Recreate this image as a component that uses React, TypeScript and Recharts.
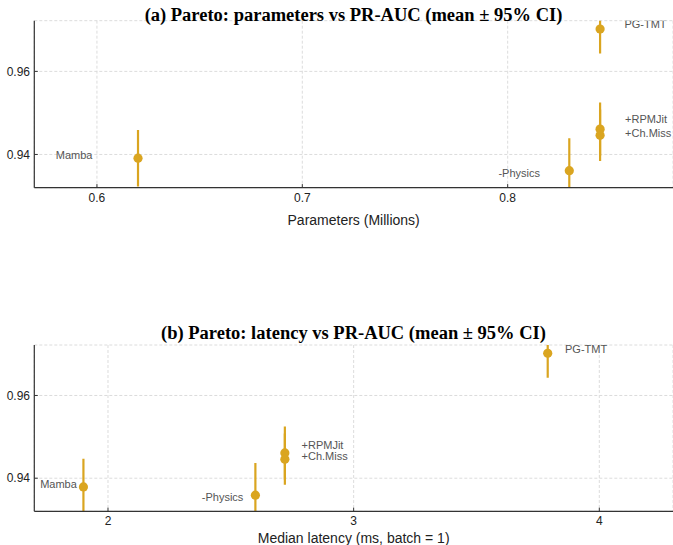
import React from 'react';
import { ScatterChart, Scatter, XAxis, YAxis, CartesianGrid, ErrorBar } from 'recharts';

// values
const models = ['Mamba', '-Physics', '+RPMJit', '+Ch.Miss', 'PG-TMT'];
const paramsMillions = [0.62, 0.83, 0.845, 0.845, 0.845];
const latencyMs = [1.9, 2.6, 2.72, 2.72, 3.79];
const prAucParams = [0.9391, 0.9361, 0.9461, 0.9446, 0.9702];
const prAucLatency = [0.9379, 0.9359, 0.9461, 0.9446, 0.9702];
const ci95 = [0.0068, 0.0078, 0.0064, 0.0062, 0.0059];

const paramTicks = [0.6, 0.7, 0.8];
const latencyTicks = [2, 3, 4];
const aucTicks = [0.94, 0.96];

const GOLD = '#DAA520';
const SANS = '"Liberation Sans", Arial, sans-serif';
const SERIF = '"Liberation Serif", "Times New Roman", serif';
const WIDTH = 673;
const Y_AXIS_W = 34.3;

type LabelPos = { [name: string]: [number, number, 'start' | 'end'] };

// pixel offsets of the annotation text from each dot
const labelPosParams: LabelPos = {
  Mamba: [-45.6, -3.3, 'end'],
  '-Physics': [-29.3, 2.6, 'end'],
  '+RPMJit': [25, -10, 'start'],
  '+Ch.Miss': [25, -2.4, 'start'],
  'PG-TMT': [24.3, -5, 'start'],
};
const labelPosLatency: LabelPos = {
  Mamba: [-6.6, -3, 'end'],
  '-Physics': [-12, 2, 'end'],
  '+RPMJit': [16.7, -8.3, 'start'],
  '+Ch.Miss': [16.7, -3.3, 'start'],
  'PG-TMT': [17.3, -4, 'start'],
};

const buildData = (xs: number[], ys: number[]) =>
  models.map((name, i) => ({ name, x: xs[i], y: ys[i], ci: ci95[i] }));

const XTick = (props: any) => {
  const { x, y, payload } = props;
  return (
    <g>
      <line x1={x} x2={x} y1={y - 5.4} y2={y - 9} stroke="#333" />
      <text x={x} y={y} dy="0.71em" textAnchor="middle" fontSize={12} fill="#222" fontFamily={SANS}>
        {String(payload.value)}
      </text>
    </g>
  );
};

const YTick = (props: any) => {
  const { x, y, payload } = props;
  return (
    <g>
      <line x1={x + 4.3} x2={x + 7.8} y1={y} y2={y} stroke="#333" />
      <text x={x} y={y} dy="0.35em" textAnchor="end" fontSize={12} fill="#222" fontFamily={SANS}>
        {payload.value.toFixed(2)}
      </text>
    </g>
  );
};

const makeShape = (pos: LabelPos) => (props: any) => {
  const { cx, cy, payload } = props;
  const [dx, dy, anchor] = pos[payload.name];
  return (
    <g>
      <circle cx={cx} cy={cy} r={4.6} fill={GOLD} />
      <text
        x={cx + dx}
        y={cy + dy}
        dy="0.35em"
        textAnchor={anchor}
        fontSize={11}
        fill="#555"
        fontFamily={SANS}
      >
        {payload.name}
      </text>
    </g>
  );
};

interface PanelProps {
  id: string;
  top: number;
  height: number;
  marginTop: number;
  xAxisHeight: number;
  title: string;
  titleY: number;
  xLabel: string;
  xLabelOffset: number;
  xDomain: [number, number];
  xTicks: number[];
  data: { name: string; x: number; y: number; ci: number }[];
  labelPos: LabelPos;
}

const Panel: React.FC<PanelProps> = (p) => {
  const plotH = p.height - p.marginTop - p.xAxisHeight;
  const sel = `.panel-${p.id}`;
  return (
    <div
      className={`panel-${p.id}`}
      style={{ position: 'absolute', left: 0, top: p.top, width: WIDTH, height: p.height }}
    >
      {/* error bars run past the axes limits, clip them to the plot box */}
      <svg width={0} height={0} style={{ position: 'absolute' }}>
        <defs>
          <clipPath id={`clip-${p.id}`} clipPathUnits="userSpaceOnUse">
            <rect x={Y_AXIS_W} y={p.marginTop} width={WIDTH - Y_AXIS_W} height={plotH} />
          </clipPath>
        </defs>
      </svg>
      <style>{`${sel} .recharts-errorBar, ${sel} .recharts-errorBars, ${sel} line[stroke="${GOLD}"] { clip-path: url(#clip-${p.id}); }`}</style>
      <div
        style={{
          position: 'absolute',
          left: 34,
          width: 639,
          top: p.titleY - 11,
          height: 22,
          lineHeight: '22px',
          textAlign: 'center',
          fontFamily: SERIF,
          fontWeight: 'bold',
          fontSize: 18.5,
          color: '#000',
          whiteSpace: 'nowrap',
          zIndex: 1,
        }}
      >
        {p.title}
      </div>
      <ScatterChart
        width={WIDTH}
        height={p.height}
        margin={{ top: p.marginTop, right: 0, bottom: 0, left: 0 }}
      >
        <CartesianGrid stroke="#dcdcdc" strokeDasharray="3 2" />
        <XAxis
          type="number"
          dataKey="x"
          domain={p.xDomain}
          ticks={p.xTicks}
          allowDataOverflow
          height={p.xAxisHeight}
          tickSize={0}
          tickMargin={5.4}
          tick={<XTick />}
          axisLine={{ stroke: '#333', strokeWidth: 1.2 }}
          label={{
            value: p.xLabel,
            position: 'insideBottom',
            offset: p.xLabelOffset,
            fontSize: 14,
            fill: '#222',
            fontFamily: SANS,
          }}
        />
        <YAxis
          type="number"
          dataKey="y"
          domain={[0.932, 0.9722]}
          ticks={aucTicks}
          allowDataOverflow
          width={Y_AXIS_W}
          tickSize={0}
          tickMargin={4.3}
          tick={<YTick />}
          axisLine={{ stroke: '#333', strokeWidth: 1.2 }}
        />
        <Scatter data={p.data} fill={GOLD} shape={makeShape(p.labelPos)} isAnimationActive={false}>
          <ErrorBar dataKey="ci" direction="y" width={0} stroke={GOLD} strokeWidth={2.2} />
        </Scatter>
      </ScatterChart>
    </div>
  );
};

export default function App() {
  return (
    <div style={{ position: 'absolute', left: 0, top: 0, width: WIDTH, height: 545, background: '#fff' }}>
      <Panel
        id="a"
        top={0}
        height={240}
        marginTop={20.7}
        xAxisHeight={52.3}
        title="(a) Pareto: parameters vs PR-AUC (mean ± 95% CI)"
        titleY={15}
        xLabel="Parameters (Millions)"
        xLabelOffset={15}
        xDomain={[0.5695, 0.8805]}
        xTicks={paramTicks}
        data={buildData(paramsMillions, prAucParams)}
        labelPos={labelPosParams}
      />
      <Panel
        id="b"
        top={310}
        height={235}
        marginTop={35}
        xAxisHeight={33.7}
        title="(b) Pareto: latency vs PR-AUC (mean ± 95% CI)"
        titleY={23}
        xLabel="Median latency (ms, batch = 1)"
        xLabelOffset={2}
        xDomain={[1.7, 4.3]}
        xTicks={latencyTicks}
        data={buildData(latencyMs, prAucLatency)}
        labelPos={labelPosLatency}
      />
    </div>
  );
}
